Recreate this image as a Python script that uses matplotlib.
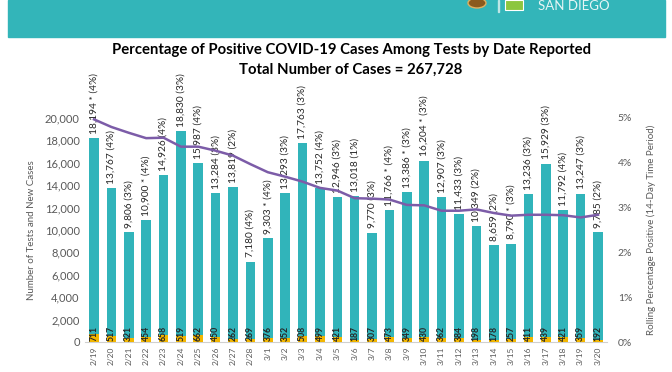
import matplotlib
matplotlib.use("Agg")
import matplotlib.pyplot as plt
from matplotlib.patches import Rectangle, Circle, Polygon

dates = ["2/19", "2/20", "2/21", "2/22", "2/23", "2/24", "2/25", "2/26", "2/27", "2/28",
         "3/1", "3/2", "3/3", "3/4", "3/5", "3/6", "3/7", "3/8", "3/9", "3/10",
         "3/11", "3/12", "3/13", "3/14", "3/15", "3/16", "3/17", "3/18", "3/19", "3/20"]
tests = [18194, 13767, 9806, 10900, 14926, 18830, 15987, 13284, 13819, 7180,
         9303, 13293, 17763, 13752, 12946, 13018, 9770, 11766, 13386, 16204,
         12907, 11433, 10349, 8659, 8790, 13236, 15929, 11792, 13247, 9785]
cases = [711, 517, 321, 454, 658, 519, 662, 450, 262, 269,
         376, 352, 508, 499, 421, 187, 307, 473, 349, 430,
         362, 384, 198, 178, 257, 411, 439, 421, 359, 192]
flags = ["*", "", "", "*", "", "", "", "", "", "",
         "*", "", "", "", "", "", "", "*", "*", "*",
         "", "", "", "", "*", "", "", "", "", ""]
daily_pct = [4, 4, 3, 4, 4, 3, 4, 3, 2, 4,
             4, 3, 3, 4, 3, 1, 3, 4, 3, 3,
             3, 3, 2, 2, 3, 3, 3, 4, 3, 2]
rolling_pct = [4.97, 4.80, 4.67, 4.55, 4.56, 4.36, 4.36, 4.27, 4.16, 3.97,
               3.79, 3.69, 3.58, 3.44, 3.38, 3.21, 3.20, 3.18, 3.06, 3.05,
               2.93, 2.93, 2.96, 2.88, 2.82, 2.84, 2.84, 2.83, 2.78, 2.84]

FONT = ["Lato", "DejaVu Sans"]
plt.rcParams["font.family"] = FONT

TEAL = "#31b4ba"
ORANGE = "#f2b600"
PURPLE = "#7c5ca8"
GRAY = "#595959"

fig = plt.figure(figsize=(6.72, 3.72), dpi=100)
W, H = 672, 372

# banner
fig.patches.append(Rectangle((8 / W, 1 - 37 / H), (665 - 8) / W, 37 / H,
                             transform=fig.transFigure, color="#33b5b9", zorder=0))
fig.patches.append(Circle((477 / W, 1 - 3 / H), 9 / W, transform=fig.transFigure,
                          facecolor="#8a5a1e", edgecolor="#e0b060", lw=1, zorder=1))
fig.patches.append(Rectangle((498 / W, 1 - 12 / H), 1 / W, 12 / H,
                             transform=fig.transFigure, color="#bfe6e6", zorder=1))
fig.patches.append(Polygon([(505 / W, 1 - 10 / H), (523 / W, 1 - 10 / H), (523 / W, 1), (505 / W, 1)],
                           closed=True, transform=fig.transFigure,
                           facecolor="#8cc63f", edgecolor="white", lw=0.8, zorder=1))
fig.text(538 / W, 1 - 10 / H, "SAN DIEGO", color="#e6f5f5", fontsize=9.5,
         ha="left", va="baseline")

fig.text(351 / W, 1 - 50 / H, "Percentage of Positive COVID-19 Cases Among Tests by Date Reported",
         ha="center", va="center", fontsize=10.7, fontweight="bold", color="black")
fig.text(351 / W, 1 - 70 / H, "Total Number of Cases = 267,728",
         ha="center", va="center", fontsize=10.7, fontweight="bold", color="black")

ax = fig.add_axes([85.3 / W, 1 - 342 / H, (606.7 - 85.3) / W, (342 - 118) / H])
x = list(range(len(dates)))
ax.bar(x, tests, width=0.55, color=TEAL, zorder=2)
ax.bar(x, cases, width=0.55, color=ORANGE, zorder=3)
ax.set_xlim(-0.5, len(dates) - 0.5)
ax.set_ylim(0, 20000)
ax.set_yticks(range(0, 20001, 2000))
ax.set_yticklabels([f"{v:,}" for v in range(0, 20001, 2000)], fontsize=8, color=GRAY)
ax.set_xticks(x)
ax.set_xticklabels(dates, rotation=90, fontsize=6, color=GRAY)
ax.tick_params(axis="both", length=0)
ax.tick_params(axis="y", pad=4)
ax.tick_params(axis="x", pad=3)
for s in ["top", "left", "right"]:
    ax.spines[s].set_visible(False)
ax.spines["bottom"].set_color("#d0d0d0")
ax.set_ylabel("Number of Tests and New Cases", fontsize=7, color=GRAY, labelpad=6)

for i in x:
    star = " *" if flags[i] else ""
    label = f"{tests[i]:,}{star} ({daily_pct[i]}%)"
    ax.annotate(label, (i, tests[i]), xytext=(0, 3), textcoords="offset points",
                rotation=90, ha="center", va="bottom", fontsize=7.3, color="#262626",
                clip_on=False, zorder=5)
    ax.annotate(f"{cases[i]}", (i, 0), xytext=(0, 1), textcoords="offset points",
                rotation=90, ha="center", va="bottom", fontsize=6.2, fontweight="bold",
                color="#262626", zorder=5)

ax2 = ax.twinx()
ax2.plot(x, rolling_pct, color=PURPLE, lw=1.8, zorder=6)
ax2.set_ylim(0, 5)
ax2.set_yticks(range(0, 6))
ax2.set_yticklabels([f"{v}%" for v in range(0, 6)], fontsize=7.5, color=GRAY)
ax2.tick_params(axis="y", length=0, pad=8)
for s in ["top", "left", "right", "bottom"]:
    ax2.spines[s].set_visible(False)
ax2.set_ylabel("Rolling Percentage Positive (14-Day Time Period)", fontsize=7, color=GRAY,
               labelpad=10)

fig.savefig("out.png", dpi=100)
